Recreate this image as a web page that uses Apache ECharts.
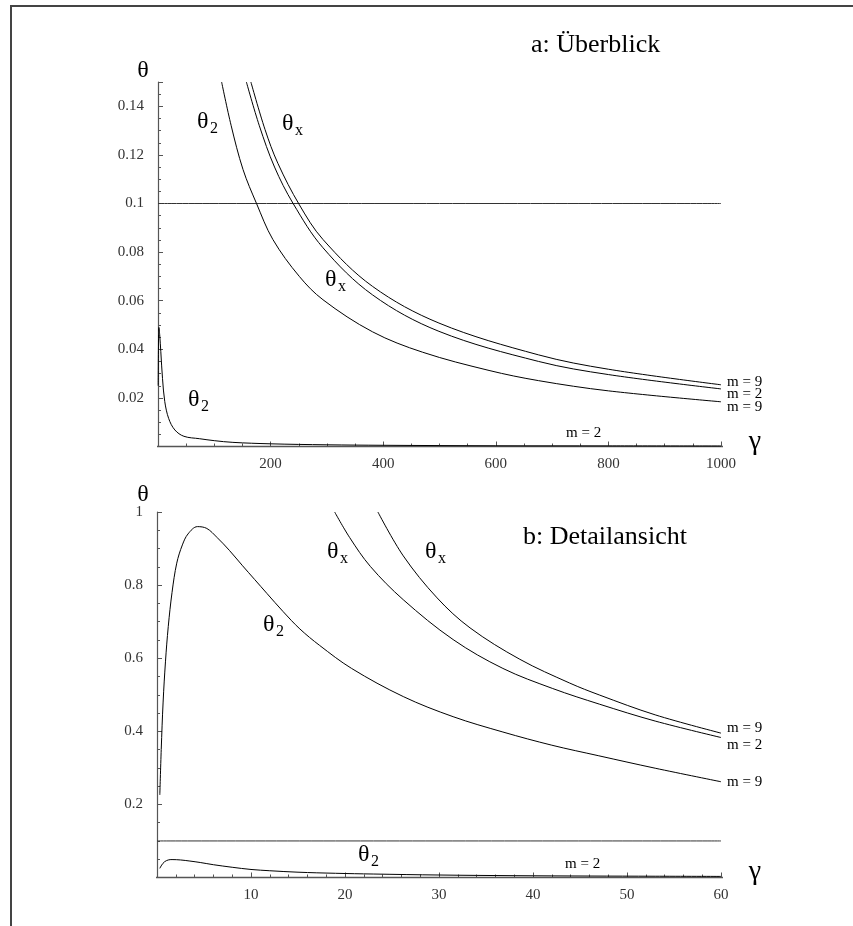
<!DOCTYPE html>
<html><head><meta charset="utf-8">
<script src="https://cdn.jsdelivr.net/npm/echarts@6/dist/echarts.min.js"></script>
<style>html,body{margin:0;padding:0;background:#fff}#c{width:853px;height:926px}</style>
</head><body><div id="c"></div>
<script>
// ---------- Panel a: Überblick (gamma 0..1000) ----------
const xTicksA = [200, 400, 600, 800, 1000];
const yTicksA = [0.02, 0.04, 0.06, 0.08, 0.1, 0.12, 0.14];
const thresholdA = 0.1;

const gammaA_theta2m9 = [113, 130, 151, 175, 204, 251, 293, 381, 470, 588, 676, 800, 1000];
const thetaA_theta2m9 = [0.15, 0.132, 0.114, 0.1, 0.0852, 0.070, 0.0604, 0.0472, 0.0388, 0.0313, 0.0271, 0.0229, 0.0184];

const gammaA_thetaXm9 = [165, 190, 213, 251, 293, 381, 499, 676, 800, 1000];
const thetaA_thetaXm9 = [0.15, 0.1305, 0.1165, 0.0995, 0.0852, 0.0659, 0.0508, 0.0377, 0.0318, 0.0254];

const gammaA_thetaXm2 = [157, 180, 207, 240, 293, 381, 499, 676, 800, 1000];
const thetaA_thetaXm2 = [0.15, 0.132, 0.115, 0.1, 0.0818, 0.0624, 0.0474, 0.0350, 0.0296, 0.0237];

const gammaA_theta2m2 = [0.3, 1, 1.6, 3, 5, 8, 12, 19, 30, 46, 74, 100, 133, 200, 300, 400, 600, 800, 1000];
const thetaA_theta2m2 = [0.025, 0.046, 0.049, 0.046, 0.039, 0.028, 0.0185, 0.0115, 0.0068, 0.0042, 0.0032, 0.0024, 0.0017, 0.0011, 0.0007, 0.0005, 0.0003, 0.00025, 0.0002];

// ---------- Panel b: Detailansicht (gamma 0..60) ----------
const xTicksB = [10, 20, 30, 40, 50, 60];
const yTicksB = [0.2, 0.4, 0.6, 0.8, 1];
const thresholdB = 0.1;

const gammaB_theta2m9 = [0.3, 0.45, 0.65, 0.9, 1.2, 1.6, 2.1, 2.7, 3.3, 4.3, 5.3, 6.4, 7.7, 9.1, 10.4, 11.7, 13.4, 15.2, 17.3, 20.7, 26.2, 31.5, 36.8, 42, 47, 53, 60];
const thetaB_theta2m9 = [0.226, 0.35, 0.48, 0.59, 0.687, 0.78, 0.86, 0.91, 0.94, 0.96, 0.955, 0.93, 0.895, 0.853, 0.815, 0.777, 0.728, 0.68, 0.635, 0.572, 0.495, 0.44, 0.398, 0.362, 0.333, 0.299, 0.262];

const gammaB_thetaXm2 = [18.9, 20.5, 22.7, 26.2, 31.5, 36.8, 42.1, 47.1, 53, 60];
const thetaB_thetaXm2 = [1.0, 0.93, 0.851, 0.76, 0.651, 0.572, 0.517, 0.474, 0.428, 0.383];

const gammaB_thetaXm9 = [23.5, 26.2, 29.8, 33.3, 38.6, 43.9, 47.1, 53, 60];
const thetaB_thetaXm9 = [1.0, 0.88, 0.765, 0.683, 0.597, 0.532, 0.499, 0.445, 0.395];

const gammaB_theta2m2 = [0.3, 0.5, 0.8, 1.2, 1.6, 2.5, 3.5, 4.6, 6, 8, 10, 12, 15, 19, 23, 30, 38, 46, 53, 60];
const thetaB_theta2m2 = [0.025, 0.034, 0.043, 0.048, 0.049, 0.048, 0.045, 0.041, 0.035, 0.028, 0.022, 0.0185, 0.0145, 0.0115, 0.0095, 0.0068, 0.005, 0.004, 0.0035, 0.003];

// ---------- chart ----------
const SERIF = '"Liberation Serif", "DejaVu Serif", serif';
const AX = '#555';
const chart = echarts.init(document.getElementById('c'), null, {renderer: 'canvas'});
const pairs = (xs, ys) => xs.map((x, i) => [x, ys[i]]);

function xAxisCfg(grid, max, interval, minorSplit) {
  return {
    gridIndex: grid, type: 'value', min: 0, max: max, interval: interval,
    axisLine: {show: false},
    axisTick: {show: true, inside: true, length: 5, lineStyle: {color: AX, width: 1}},
    minorTick: {show: true, splitNumber: minorSplit, length: 3, lineStyle: {color: AX, width: 1}},
    splitLine: {show: false}, minorSplitLine: {show: false},
    axisLabel: {showMinLabel: false, fontFamily: SERIF, fontSize: 15, color: '#333', margin: 10,
      formatter: v => String(v)}
  };
}
function yAxisCfg(grid, max, interval, showMax) {
  return {
    gridIndex: grid, type: 'value', min: 0, max: max, interval: interval,
    axisLine: {show: true, lineStyle: {color: AX, width: 1.2}},
    axisTick: {show: true, inside: true, length: 5, lineStyle: {color: AX, width: 1}},
    minorTick: {show: true, splitNumber: 4, length: 3, lineStyle: {color: AX, width: 1}},
    splitLine: {show: false}, minorSplitLine: {show: false},
    axisLabel: {showMinLabel: false, showMaxLabel: showMax, fontFamily: SERIF, fontSize: 15, color: '#333', margin: 14}
  };
}
function curve(xi, xs, ys, color, w) {
  return {
    type: 'line', xAxisIndex: xi, yAxisIndex: xi, data: pairs(xs, ys),
    showSymbol: false, symbol: 'none', smooth: 0.35,
    lineStyle: {color: color || '#000', width: w || 1}, silent: true
  };
}
function axisExt(xi, from, to) {
  return {
    type: 'line', xAxisIndex: xi, yAxisIndex: xi, data: [[from, 0], [to, 0]],
    showSymbol: false, symbol: 'none', clip: false,
    lineStyle: {color: AX, width: 1.5}, silent: true
  };
}

function txt(x, y, s, size, align) {
  return {type: 'text', x: x, y: y, silent: true,
    style: {text: s, font: size + 'px ' + SERIF, fill: '#000', textAlign: align || 'left', textVerticalAlign: 'middle', verticalAlign: 'middle'}};
}
function sub(x, y, base, s) {
  return [txt(x, y, base, 24), txt(x + 13, y + 7, s, 16)];
}

const graphics = [
  {type: 'polyline', silent: true, shape: {points: [[11, 926], [11, 6], [853, 6]]}, style: {stroke: '#444', lineWidth: 2, fill: null}},
  // panel a
  txt(143, 71, 'θ', 24, 'center'),
  txt(531, 45, 'a: Überblick', 26),
  ...sub(197, 122, 'θ', '2'),
  ...sub(282, 124, 'θ', 'x'),
  ...sub(325, 280, 'θ', 'x'),
  ...sub(188, 400, 'θ', '2'),
  txt(727, 382, 'm = 9', 15), txt(727, 394.5, 'm = 2', 15), txt(727, 407, 'm = 9', 15),
  txt(566, 433, 'm = 2', 15),
  txt(755, 442, 'γ', 28, 'center'),
  // panel b
  txt(143, 495, 'θ', 24, 'center'),
  txt(523, 537, 'b: Detailansicht', 26),
  ...sub(327, 552, 'θ', 'x'),
  ...sub(425, 552, 'θ', 'x'),
  ...sub(263, 625, 'θ', '2'),
  ...sub(358, 855, 'θ', '2'),
  txt(727, 728, 'm = 9', 15), txt(727, 745, 'm = 2', 15), txt(727, 782, 'm = 9', 15),
  txt(565, 864, 'm = 2', 15),
  txt(755, 872, 'γ', 28, 'center')
];

const option = {
  animation: false,
  backgroundColor: '#fff',
  grid: [
    {left: 158, right: 132, top: 82, height: 364.5},
    {left: 157, right: 132, top: 512, height: 365.5}
  ],
  xAxis: [xAxisCfg(0, 1000, 200, 4), xAxisCfg(1, 60, 10, 5)],
  yAxis: [yAxisCfg(0, 0.15, 0.02, false), yAxisCfg(1, 1, 0.2, true)],
  series: [
    axisExt(0, -26.5, 1021),
    axisExt(1, -1.5, 61.6),
    curve(0, [0, 1000], [thresholdA, thresholdA], '#333'),
    curve(0, gammaA_theta2m9, thetaA_theta2m9),
    curve(0, gammaA_thetaXm9, thetaA_thetaXm9),
    curve(0, gammaA_thetaXm2, thetaA_thetaXm2),
    curve(0, gammaA_theta2m2, thetaA_theta2m2),
    curve(1, [0, 60], [thresholdB, thresholdB], '#333'),
    curve(1, gammaB_theta2m9, thetaB_theta2m9),
    curve(1, gammaB_thetaXm2, thetaB_thetaXm2),
    curve(1, gammaB_thetaXm9, thetaB_thetaXm9),
    curve(1, gammaB_theta2m2, thetaB_theta2m2)
  ],
  graphic: graphics
};
chart.setOption(option);
</script>
</body></html>
